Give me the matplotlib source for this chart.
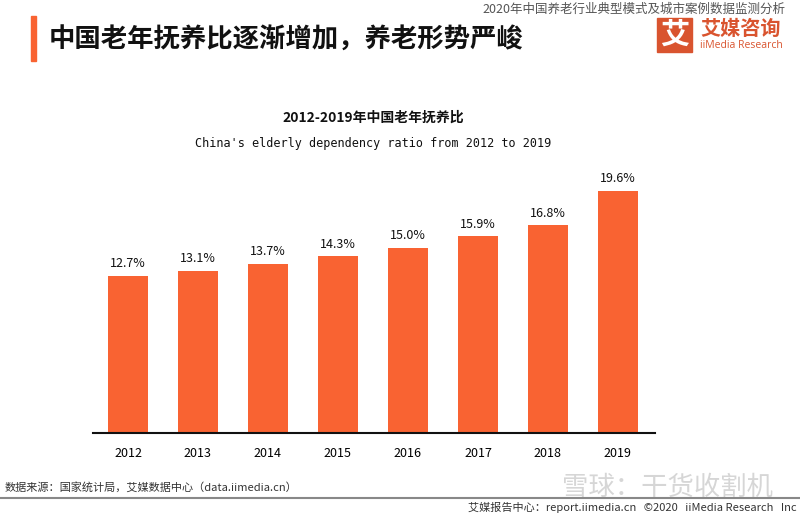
import matplotlib.pyplot as plt
from matplotlib.patches import Rectangle

plt.rcParams['font.family'] = ['Noto Sans CJK SC', 'DejaVu Sans']

years = ['2012', '2013', '2014', '2015', '2016', '2017', '2018', '2019']
ratio = [12.7, 13.1, 13.7, 14.3, 15.0, 15.9, 16.8, 19.6]

bar_color = '#F96332'
logo_color = '#D9542F'

fig = plt.figure(figsize=(8, 5.14), dpi=100)
W, H = 800, 514

def fx(x):
    return x / W

def fy(y):
    return 1 - y / H

# header
fig.patches.append(Rectangle((fx(31), fy(61)), 5 / W, 45 / H, transform=fig.transFigure,
                             color=bar_color, zorder=2))
fig.text(fx(49), fy(40), '中国老年抚养比逐渐增加，养老形势严峻', fontsize=19,
         fontweight='bold', va='center', ha='left', color='#111111')
fig.text(fx(785), fy(9), '2020年中国养老行业典型模式及城市案例数据监测分析', fontsize=9,
         va='center', ha='right', color='#555555')

# logo
fig.patches.append(Rectangle((fx(657), fy(52)), 35 / W, 34 / H, transform=fig.transFigure,
                             color=logo_color, zorder=2))
fig.text(fx(674.5), fy(35), '艾', fontsize=21, fontweight='bold', color='white',
         ha='center', va='center')
fig.text(fx(741), fy(28), '艾媒咨询', fontsize=14.5, fontweight='bold', color=logo_color,
         ha='center', va='center')
fig.text(fx(741), fy(46), 'iiMedia Research', fontsize=7.5, color=logo_color,
         ha='center', va='center', family=['Open Sans', 'DejaVu Sans'])

# chart titles
fig.text(fx(373), fy(118), '2012-2019年中国老年抚养比', fontsize=10, fontweight='bold',
         ha='center', va='center', color='#111111')
fig.text(fx(373), fy(144), "China's elderly dependency ratio from 2012 to 2019", fontsize=8.5,
         ha='center', va='center', family=['DejaVu Sans Mono'], color='#111111')

# bars
ax = fig.add_axes([fx(93), 81 / H, (655 - 93) / W, 272 / H])
x = range(len(years))
bars = ax.bar(x, ratio, width=0.56, color=bar_color, zorder=2)
for xi, v in zip(x, ratio):
    ax.text(xi, v + 0.45, f'{v:.1f}%', ha='center', va='bottom', fontsize=9,
            color='#111111')
ax.set_xlim(-0.5, 7.53)
ax.set_ylim(0, 22)
ax.set_xticks(list(x))
ax.set_xticklabels(years, fontsize=9)
ax.tick_params(axis='x', length=0, pad=10)
ax.set_yticks([])
for s in ['top', 'right', 'left']:
    ax.spines[s].set_visible(False)
ax.spines['bottom'].set_linewidth(1.5)
ax.spines['bottom'].set_color('#111111')

# footer
fig.text(fx(5), fy(487), '数据来源：国家统计局，艾媒数据中心（data.iimedia.cn）', fontsize=8,
         ha='left', va='center', color='#333333')
fig.add_artist(plt.Line2D([0, 1], [fy(498), fy(498)], transform=fig.transFigure,
                          color='#888888', linewidth=1.5))
fig.text(fx(797), fy(507), '艾媒报告中心：report.iimedia.cn   ©2020   iiMedia Research   Inc',
         fontsize=8, ha='right', va='center', color='#333333')
fig.text(fx(668), fy(487), '雪球：干货收割机', fontsize=19, ha='center', va='center',
         color='#cccccc', alpha=0.8, zorder=0)

fig.savefig('out.png', dpi=100)
